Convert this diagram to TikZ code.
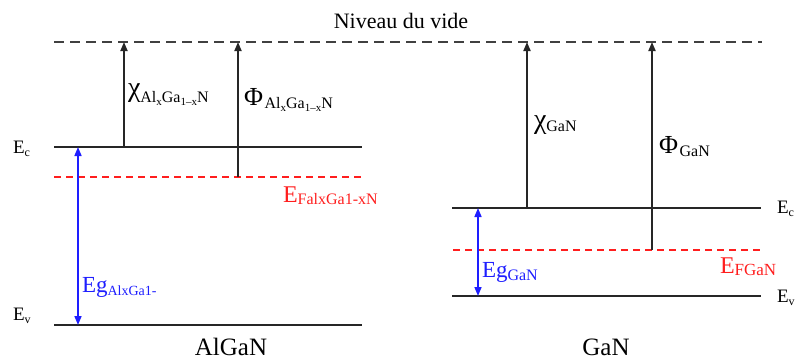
\documentclass[tikz,border=0pt]{standalone}
\usepackage{fontspec}
\setmainfont{Liberation Serif}
\usetikzlibrary{arrows.meta}
\definecolor{fred}{RGB}{255,30,30}
\definecolor{eblue}{RGB}{30,30,255}
\newcommand\fs[2]{{\fontsize{#1}{#1}\selectfont #2}}
\newcommand\lw[2]{\raisebox{-#1pt}{#2}}
\newcommand\alsub{Al\lw{3}{\fs{11}{x}}Ga\lw{3}{\fs{11}{1\textendash x}}N}
\tikzset{
  level/.style={line width=1.4pt, black!85},
  vac/.style={line width=1.3pt, black!75, dash pattern=on 10pt off 6pt},
  fermi/.style={line width=1.2pt, fred, dash pattern=on 7pt off 5pt},
  up/.style={line width=1.8pt, black!85, -{Triangle[length=9pt,width=7pt]}},
  gap/.style={line width=1.6pt, eblue, {Triangle[length=9pt,width=7pt]}-{Triangle[length=9pt,width=7pt]}},
  lbl/.style={inner sep=0pt, outer sep=0pt, text=black},
}
\begin{document}
\begin{tikzpicture}[x=1pt,y=-1pt]
\useasboundingbox (0,0) rectangle (797,359);
% coordinates
\coordinate (vL) at (54,42); \coordinate (vR) at (762,42);
\coordinate (ecA1) at (54,147); \coordinate (ecA2) at (362,147);
\coordinate (efA1) at (54,177); \coordinate (efA2) at (362,177);
\coordinate (evA1) at (54,325); \coordinate (evA2) at (362,325);
\coordinate (ecB1) at (452,208); \coordinate (ecB2) at (761,208);
\coordinate (efB1) at (453,250); \coordinate (efB2) at (761,250);
\coordinate (evB1) at (452,296); \coordinate (evB2) at (761,296);
\coordinate (chiA0) at (124,147); \coordinate (chiA1) at (124,42);
\coordinate (phiA0) at (238,177); \coordinate (phiA1) at (238,42);
\coordinate (chiB0) at (527,208); \coordinate (chiB1) at (527,42);
\coordinate (phiB0) at (652,250); \coordinate (phiB1) at (652,42);
\coordinate (gA0) at (78,147); \coordinate (gA1) at (78,325);
\coordinate (gB0) at (478,208); \coordinate (gB1) at (478,296);
% levels
\draw[vac] (vL) -- (vR);
\draw[level] (ecA1) -- (ecA2);
\draw[fermi] (efA1) -- (efA2);
\draw[level] (evA1) -- (evA2);
\draw[level] (ecB1) -- (ecB2);
\draw[fermi] (efB1) -- (efB2);
\draw[level] (evB1) -- (evB2);
% arrows
\draw[up] (chiA0) -- (chiA1);
\draw[up] (phiA0) -- (phiA1);
\draw[up] (chiB0) -- (chiB1);
\draw[up] (phiB0) -- (phiB1);
\draw[gap] (gA0) -- (gA1);
\draw[gap] (gB0) -- (gB1);
% labels
\node[lbl,anchor=base] (title) at (401,28) {\fs{22}{Niveau du vide}};
\node[lbl,anchor=base west] (ecAl) at (13,153) {\fs{19}{E\lw{3}{\fs{12}{c}}}};
\node[lbl,anchor=base west] (evAl) at (13,320) {\fs{19}{E\lw{3}{\fs{12}{v}}}};
\node[lbl,anchor=base west] (ecBl) at (777,213) {\fs{19}{E\lw{3}{\fs{12}{c}}}};
\node[lbl,anchor=base west] (evBl) at (777,302) {\fs{19}{E\lw{3}{\fs{12}{v}}}};
\node[lbl,anchor=base west] (chiAl) at (128,96) {\fs{28}{χ}\lw{6}{\fs{16}{\alsub}}};
\node[lbl,anchor=base west] (phiAl) at (244,105) {\fs{26}{Φ}\,\lw{3}{\fs{16}{\alsub}}};
\node[lbl,anchor=base west] (chiBl) at (534,128) {\fs{28}{χ}\lw{3}{\fs{16}{GaN}}};
\node[lbl,anchor=base west] (phiBl) at (659,153) {\fs{26}{Φ}\,\lw{3}{\fs{16}{GaN}}};
\node[lbl,anchor=base west,text=fred] (efAl) at (283,202) {\fs{24}{E\lw{2}{\fs{16}{FalxGa1-xN}}}};
\node[lbl,anchor=base west,text=fred] (efBl) at (720,273) {\fs{24}{E\lw{2}{\fs{17}{FGaN}}}};
\node[lbl,anchor=base west,text=eblue] (egAl) at (82,292) {\fs{23}{Eg\lw{3}{\fs{14}{AlxGa1-}}}};
\node[lbl,anchor=base west,text=eblue] (egBl) at (482,277) {\fs{23}{Eg\lw{3}{\fs{16}{GaN}}}};
\node[lbl,anchor=base] (algan) at (231,355) {\fs{25}{AlGaN}};
\node[lbl,anchor=base] (gan) at (606,355) {\fs{25}{GaN}};
\end{tikzpicture}
\end{document}
